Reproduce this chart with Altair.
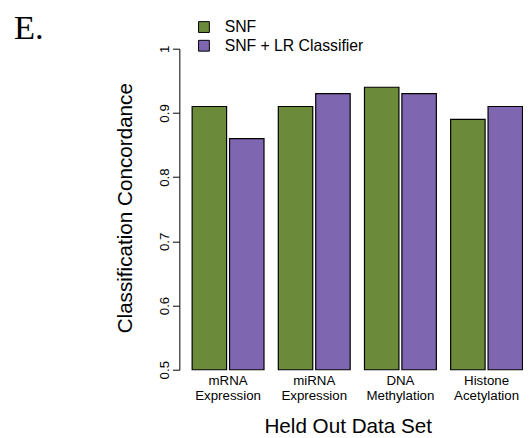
import altair as alt
import pandas as pd

categories = ["mRNA|Expression", "miRNA|Expression", "DNA|Methylation", "Histone|Acetylation"]
methods = ["SNF", "SNF + LR Classifier"]
snf_values = [0.91, 0.91, 0.94, 0.89]
lr_values = [0.86, 0.93, 0.93, 0.91]
y_ticks = [0.5, 0.6, 0.7, 0.8, 0.9, 1.0]
colors = ["#6b8a3a", "#7f66b0"]

rows = []
for c, a, b in zip(categories, snf_values, lr_values):
    rows.append({"set": c, "method": methods[0], "value": a})
    rows.append({"set": c, "method": methods[1], "value": b})
df = pd.DataFrame(rows)

FONT = "Liberation Sans"

bars = alt.Chart(df).mark_bar(stroke="black", strokeWidth=1.2).encode(
    x=alt.X(
        "set:N",
        sort=categories,
        scale=alt.Scale(range=[13, 348.5], paddingInner=0.166, paddingOuter=0),
        axis=alt.Axis(
            title="Held Out Data Set",
            labelExpr="split(datum.label, '|')",
            labelAngle=0,
            labelFontSize=13.5,
            labelLineHeight=15,
            labelPadding=4,
            labelColor="black",
            labelFont=FONT,
            domain=False,
            ticks=False,
            titleFont=FONT,
            titleFontSize=21,
            titleFontWeight="normal",
            titleColor="black",
            titleX=171,
            titleY=64,
            titleBaseline="alphabetic",
            titleAlign="center",
        ),
    ),
    xOffset=alt.XOffset(
        "method:N",
        sort=methods,
        scale=alt.Scale(paddingInner=0.079, paddingOuter=0),
    ),
    y=alt.Y(
        "value:Q",
        scale=alt.Scale(domain=[0.5, 1.0], zero=False, nice=False),
        axis=alt.Axis(
            title="Classification Concordance",
            values=y_ticks,
            format="~g",
            grid=False,
            domainColor="black",
            tickColor="black",
            tickSize=7,
            labelAngle=270,
            labelAlign="center",
            labelBaseline="alphabetic",
            labelPadding=4,
            labelFontSize=13.5,
            labelFont=FONT,
            labelColor="black",
            titleFont=FONT,
            titleFontSize=21,
            titleFontWeight="normal",
            titleColor="black",
            titleAngle=270,
            titleX=-49,
            titleY=161.5,
            titleBaseline="alphabetic",
            titleAlign="center",
        ),
    ),
    y2=alt.datum(0.5),
    color=alt.Color(
        "method:N",
        sort=methods,
        scale=alt.Scale(domain=methods, range=colors),
        legend=alt.Legend(
            title=None,
            orient="none",
            legendX=17,
            legendY=-30,
            padding=0,
            symbolType="square",
            symbolSize=121,
            symbolStrokeColor="black",
            symbolStrokeWidth=1,
            labelFont=FONT,
            labelFontSize=16,
            labelColor="black",
            labelOffset=13,
            rowPadding=3,
        ),
    ),
)

label = alt.Chart(pd.DataFrame({"t": ["E."]})).mark_text(
    font="Liberation Serif", fontSize=35, align="left", baseline="alphabetic", color="black"
).encode(x=alt.value(-168), y=alt.value(-10), text="t:N")

chart = alt.layer(bars, label).properties(
    width=349,
    height=326,
    padding={"left": 174, "top": 38, "right": 0, "bottom": 66},
    autosize=alt.AutoSizeParams(type="none"),
).configure_view(stroke=None)

chart.save("out.html", embed_options={"renderer": "svg", "actions": False})
